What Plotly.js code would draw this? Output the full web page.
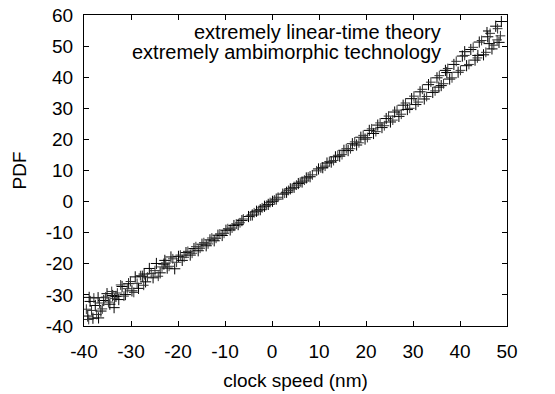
<!DOCTYPE html>
<html>
<head>
<meta charset="utf-8">
<script src="https://cdn.plot.ly/plotly-3.0.1.min.js"></script>
<style>html,body{margin:0;padding:0;background:#fff;}#chart{width:555px;height:394px;}</style>
</head>
<body>
<div id="chart"></div>
<script>
const seriesNames = ["extremely linear-time theory", "extremely ambimorphic technology"];
const xTickVals = [-40, -30, -20, -10, 0, 10, 20, 30, 40, 50];
const yTickVals = [-40, -30, -20, -10, 0, 10, 20, 30, 40, 50, 60];

const theoryX = [-39.2,-38.7,-38.1,-37.6,-37.0,-36.4,-35.8,-35.1,-34.5,-33.9,-33.2,-32.6,-31.9,-31.2,-30.5,-29.8,-29.1,-28.4,-27.6,-26.9,-26.1,-25.3,-24.6,-23.8,-23.0,-22.3,-21.5,-20.7,-19.9,-19.1,-18.3,-17.4,-16.6,-15.7,-14.9,-14.0,-13.2,-12.3,-11.5,-10.6,-9.8,-8.9,-8.1,-7.2,-6.4,-5.0,-4.2,-3.3,-2.5,-1.6,-0.8,0.1,0.9,2.3,3.1,3.9,4.7,5.6,6.4,7.3,8.1,9.9,10.8,11.7,12.6,13.5,14.4,15.3,16.2,17.1,18.0,18.9,19.8,20.7,21.6,22.5,23.4,24.3,25.2,26.1,27.0,27.9,28.8,29.7,30.6,31.5,32.4,33.3,34.2,35.1,36.0,36.9,37.8,38.7,39.6,40.5,41.4,42.3,43.2,44.1,45.0,45.9,46.8,47.6,48.3,48.8,41.0,43.8,46.2,35.5,37.2,-38.9,-36.9,-33.6,-27.2,-22.8];
const theoryY = [-36.8,-32.1,-37.5,-33.4,-30.9,-35.2,-31.8,-29.6,-33.0,-30.2,-30.5,-31.5,-27.3,-29.9,-26.4,-28.7,-24.2,-27.9,-24.0,-25.8,-21.5,-24.5,-19.9,-22.9,-20.1,-21.4,-17.8,-21.6,-17.6,-18.9,-16.4,-17.2,-15.1,-15.8,-13.7,-14.2,-12.3,-12.6,-10.8,-10.9,-9.2,-9.1,-7.7,-7.4,-6.1,-4.8,-4.3,-3.1,-2.6,-1.5,-0.9,0.1,0.8,2.4,3.0,4.1,4.6,5.8,6.3,7.6,8.0,10.5,10.9,12.4,12.7,14.4,14.6,16.5,16.4,18.6,18.2,20.7,20.1,22.9,21.9,24.6,23.8,26.7,25.6,28.8,27.4,31.0,29.6,33.1,31.2,35.3,33.0,37.6,35.1,39.8,37.3,42.2,39.4,44.1,41.6,46.8,43.7,48.9,45.5,51.3,47.2,53.0,49.1,56.4,51.2,57.9,48.2,47.0,50.8,36.8,41.5,-30.8,-37.4,-34.1,-23.3,-18.9];

const techX = [-39.5,-39.0,-38.4,-37.9,-37.3,-36.7,-36.1,-35.4,-34.8,-34.1,-33.5,-32.9,-32.2,-31.5,-30.8,-30.1,-29.4,-28.7,-28.0,-27.3,-26.5,-25.7,-24.9,-24.2,-23.4,-22.6,-21.9,-21.1,-20.3,-19.5,-18.7,-17.9,-17.0,-16.2,-15.3,-14.5,-13.6,-12.8,-11.9,-11.1,-10.2,-9.4,-8.5,-7.6,-6.8,-6.1,-4.6,-3.8,-2.9,-2.1,-1.2,-0.4,0.5,1.3,2.7,3.5,4.3,5.2,6.0,6.9,7.7,8.6,9.5,10.4,11.3,12.2,13.1,14.0,14.9,15.8,16.7,17.6,18.5,19.4,20.3,21.2,22.1,23.0,23.9,24.8,25.7,26.6,27.5,28.4,29.3,30.2,31.1,32.0,32.9,33.8,34.7,35.6,36.5,37.4,38.3,39.2,40.1,41.0,41.9,42.8,43.7,44.6,45.5,46.4,47.2,48.0,48.6,47.9];
const techY = [-34.6,-37.9,-35.0,-31.0,-36.3,-32.6,-34.5,-30.7,-32.3,-28.9,-31.1,-29.4,-26.8,-30.4,-28.0,-25.7,-29.2,-26.3,-23.8,-26.9,-24.3,-23.1,-22.2,-24.0,-21.0,-19.8,-20.8,-18.4,-19.5,-17.2,-17.9,-16.0,-16.6,-14.5,-15.0,-13.2,-13.6,-11.7,-11.8,-10.4,-10.2,-8.7,-8.5,-7.2,-6.8,-5.6,-4.6,-3.6,-2.9,-2.0,-1.2,-0.3,0.5,1.4,2.7,3.6,4.3,5.3,6.2,6.9,7.9,8.6,9.9,10.8,11.4,12.9,13.2,14.9,15.1,17.0,17.0,19.2,18.9,21.3,20.6,23.4,22.5,25.3,24.4,27.5,26.2,29.4,28.1,31.7,30.0,33.9,32.0,36.1,33.8,38.4,35.6,40.5,37.9,42.8,39.8,45.1,42.2,47.0,44.1,49.6,46.2,51.8,48.0,54.1,50.3,55.6,53.3,52.0];

const FONT = "'Liberation Sans', Arial, Helvetica, sans-serif";

const traces = [
  {
    type: 'scatter', mode: 'markers', name: seriesNames[0],
    x: theoryX, y: theoryY, showlegend: false,
    marker: {symbol: 'cross-thin-open', size: 8, color: '#000', line: {color: '#000', width: 1}}
  },
  {
    type: 'scatter', mode: 'markers', name: seriesNames[1],
    x: techX, y: techY, showlegend: false,
    marker: {symbol: 'cross-thin-open', size: 7, color: '#333', line: {color: '#333', width: 1}}
  }
];

const axisCommon = {
  showgrid: false, zeroline: false, showline: true, linecolor: '#000', linewidth: 1,
  mirror: 'ticks', ticks: 'inside', ticklen: 5, tickcolor: '#000', tickwidth: 1,
  tickfont: {family: FONT, size: 19, color: '#000'}
};

const layout = {
  width: 555, height: 394,
  margin: {l: 84, r: 48, t: 15, b: 68},
  paper_bgcolor: '#fff', plot_bgcolor: '#fff',
  font: {family: FONT, size: 19, color: '#000'},
  xaxis: Object.assign({}, axisCommon, {
    range: [-40, 50], tickvals: xTickVals, ticktext: xTickVals.map(String),
    ticklabelstandoff: 8,
    title: {text: 'clock speed (nm)', font: {family: FONT, size: 19, color: '#000'}, standoff: 12}
  }),
  yaxis: Object.assign({}, axisCommon, {
    range: [-40, 60], tickvals: yTickVals, ticktext: yTickVals.map(String),
    ticklabelstandoff: 6,
    title: {text: 'PDF', font: {family: FONT, size: 19, color: '#000'}, standoff: 14}
  }),
  annotations: [
    {xref: 'paper', yref: 'paper', x: 0.849, y: 0.945, xanchor: 'right', yanchor: 'middle',
     text: seriesNames[0], showarrow: false, font: {family: FONT, size: 20, color: '#000'}},
    {xref: 'paper', yref: 'paper', x: 0.849, y: 0.881, xanchor: 'right', yanchor: 'middle',
     text: seriesNames[1], showarrow: false, font: {family: FONT, size: 20, color: '#000'}}
  ],
  shapes: [
    {type: 'line', xref: 'paper', yref: 'paper', x0: 0.9432, x1: 0.9622, y0: 0.9486, y1: 0.9486, line: {color: '#000', width: 1}},
    {type: 'line', xref: 'paper', yref: 'paper', x0: 0.9527, x1: 0.9527, y0: 0.9357, y1: 0.9615, line: {color: '#000', width: 1}}
  ]
};

Plotly.newPlot('chart', traces, layout, {displayModeBar: false, staticPlot: true});
</script>
</body>
</html>
